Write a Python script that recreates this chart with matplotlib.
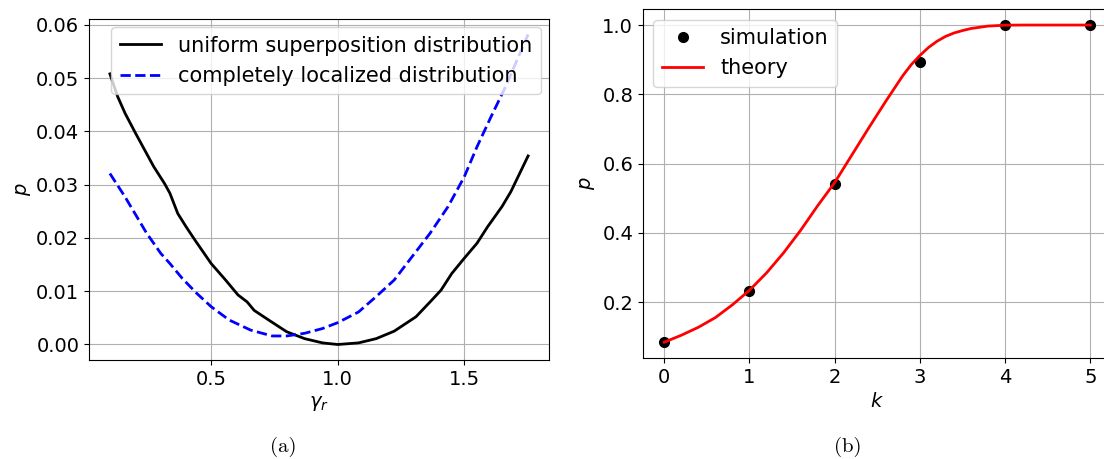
import matplotlib
matplotlib.use("Agg")
import matplotlib.pyplot as plt

# (a) success probability vs. gamma_r for the two initial distributions
gamma_r = [0.100, 0.131, 0.160, 0.202, 0.273, 0.316, 0.337, 0.368, 0.401, 0.436,
           0.500, 0.557, 0.606, 0.642, 0.670, 0.727, 0.798, 0.869, 0.940, 1.000,
           1.082, 1.152, 1.223, 1.309, 1.365, 1.408, 1.450, 1.500, 1.550, 1.592,
           1.649, 1.684, 1.752]
p_uniform = [0.0508, 0.0465, 0.0434, 0.0396, 0.0334, 0.0302, 0.0284, 0.0246, 0.0221, 0.0196,
             0.0152, 0.0121, 0.0093, 0.0080, 0.0064, 0.0046, 0.0024, 0.0011, 0.0003, 0.0000,
             0.0003, 0.0011, 0.0025, 0.0052, 0.0080, 0.0102, 0.0133, 0.0162, 0.0190, 0.0221,
             0.0259, 0.0287, 0.0354]

gamma_loc = [0.100, 0.160, 0.245, 0.301, 0.337, 0.386, 0.443, 0.500, 0.571, 0.656,
             0.741, 0.798, 0.869, 0.940, 1.000, 1.082, 1.152, 1.223, 1.294, 1.365,
             1.436, 1.500, 1.550, 1.606, 1.663, 1.752]
p_localized = [0.0321, 0.0277, 0.0209, 0.0171, 0.0152, 0.0124, 0.0096, 0.0071, 0.0046, 0.0027,
               0.0016, 0.0016, 0.0021, 0.0030, 0.0041, 0.0061, 0.0090, 0.0121, 0.0165, 0.0209,
               0.0259, 0.0315, 0.0371, 0.0428, 0.0484, 0.0582]

# (b) success probability vs. k
k_sim = [0, 1, 2, 3, 4, 5]
p_sim = [0.084, 0.231, 0.540, 0.892, 0.999, 1.000]

k_theory = [0.0, 0.2, 0.4, 0.6, 0.8, 1.0, 1.2, 1.4, 1.6, 1.8, 2.0, 2.2, 2.4,
            2.6, 2.8, 2.9, 3.0, 3.1, 3.2, 3.3, 3.4, 3.5, 3.6, 3.8, 4.0,
            4.2, 4.4, 4.6, 4.8, 5.0]
p_theory = [0.084, 0.104, 0.127, 0.155, 0.192, 0.234, 0.284, 0.342, 0.407, 0.478,
            0.545, 0.624, 0.703, 0.780, 0.854, 0.886, 0.912, 0.935, 0.953, 0.967,
            0.977, 0.984, 0.990, 0.997, 0.9995, 1.0, 1.0, 1.0, 1.0, 1.0]

plt.rcParams["font.size"] = 14
plt.rcParams["legend.fontsize"] = 15

fig = plt.figure(figsize=(11.04, 4.59), dpi=100)

ax1 = fig.add_axes([0.0806, 0.2157, 0.4167, 0.743])
ax1.plot(gamma_r, p_uniform, color="black", lw=2, label="uniform superposition distribution")
ax1.plot(gamma_loc, p_localized, color="blue", lw=2, ls="--", label="completely localized distribution")
ax1.set_yticks([0.0, 0.01, 0.02, 0.03, 0.04, 0.05, 0.06])
ax1.set_xticks([0.5, 1.0, 1.5])
ax1.set_xlabel(r"$\gamma_r$")
ax1.set_ylabel(r"$p$", labelpad=2)
ax1.grid(True)
ax1.legend(loc="upper right", borderaxespad=0.4)

ax2 = fig.add_axes([0.5824, 0.220, 0.4245, 0.760])
ax2.plot(k_sim, p_sim, "o", color="black", ms=7, label="simulation")
ax2.plot(k_theory, p_theory, color="red", lw=2, label="theory")
ax2.set_xlim(-0.25, 5.25)
ax2.set_xlabel(r"$k$")
ax2.set_ylabel(r"$p$", labelpad=4)
ax2.grid(True)
ax2.legend(loc="upper left")

fig.text(0.2565, 0.026, "(a)", family="cmr10", fontsize=15, ha="center", va="center")
fig.text(0.768, 0.026, "(b)", family="cmr10", fontsize=15, ha="center", va="center")

fig.savefig("out.png", dpi=100)
